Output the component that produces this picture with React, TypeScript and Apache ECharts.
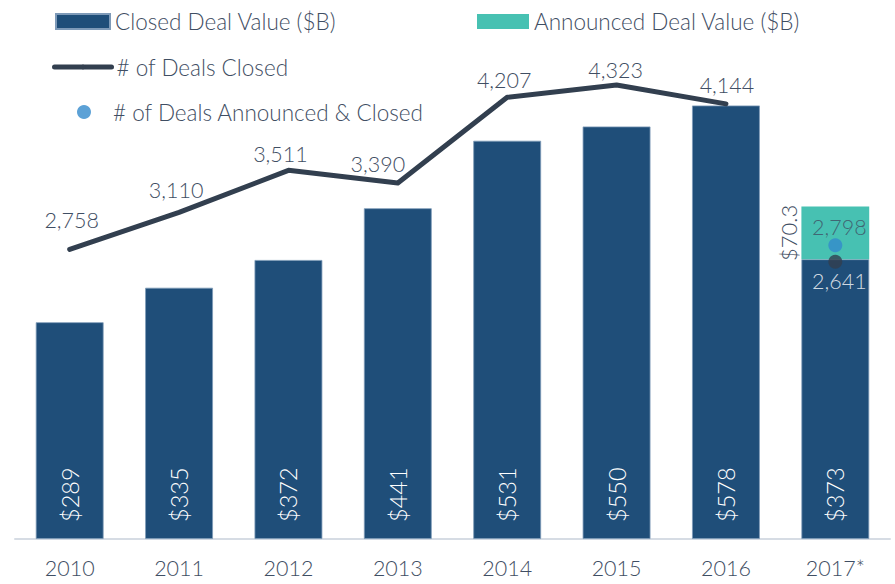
import React, { useEffect, useRef } from "react";
import * as echarts from "echarts";

const categories = ["2010", "2011", "2012", "2013", "2014", "2015", "2016", "2017*"];
const closedDealValue = [289, 335, 372, 441, 531, 550, 578, 373];
const announcedDealValue = [null, null, null, null, null, null, null, 70.3];
const dealsClosed = [2758, 3110, 3511, 3390, 4207, 4323, 4144, 2641];
const dealsAnnouncedClosed = [null, null, null, null, null, null, null, 2798];
const partialYearIndex = 7;

const FONT = "Lato";
const WEIGHT = 300;
const TEXT = "#3F4E63";
const BAR = "#1F4E79";
const TEAL = "#47C1B2";
const LINE = "#323F4F";
const DOT = "#3389CC";

// label nudges for the line series (style only)
const lineLabelNudge = [
  [2, -13],
  [-3, -6],
  [-8, 0],
  [-20, -3],
  [-3, -1],
  [-1, 1],
  [1, -2],
];

export default function App() {
  const ref = useRef<HTMLDivElement>(null);
  useEffect(() => {
    if (!ref.current) return;
    const chart = echarts.init(ref.current, null, { renderer: "svg" });
    const fmt = (v: number) => v.toLocaleString("en-US");

    const lineData = dealsClosed.map((v, i) =>
      i < partialYearIndex
        ? { value: v, label: { offset: lineLabelNudge[i] } }
        : "-"
    );
    const closedDot = dealsClosed.map((v, i) => (i >= partialYearIndex ? v : "-"));
    const announcedDot = dealsAnnouncedClosed.map((v) => (v == null ? "-" : v));
    const announcedBar = announcedDealValue.map((v) => (v == null ? "-" : v));

    const legendText = { color: TEXT, fontFamily: FONT, fontSize: 22.5, fontWeight: WEIGHT };

    chart.setOption({
      animation: false,
      textStyle: { fontFamily: FONT },
      grid: { left: 15, right: 5, top: 14, bottom: 45 },
      legend: [
        {
          data: ["Closed Deal Value ($B)"],
          left: 55, top: 10, padding: 0,
          itemWidth: 54, itemHeight: 15, icon: "rect",
          textStyle: legendText, selectedMode: false,
        },
        {
          data: ["Announced Deal Value ($B)"],
          left: 477, top: 10, padding: 0,
          itemWidth: 52, itemHeight: 15, icon: "rect",
          textStyle: legendText, selectedMode: false,
        },
        {
          data: ["# of Deals Closed"],
          left: 52, top: 55.5, padding: 0,
          itemWidth: 57, itemHeight: 6,
          lineStyle: { width: 5, cap: "round", color: LINE },
          textStyle: legendText, selectedMode: false,
        },
        {
          data: ["# of Deals Announced & Closed"],
          left: 77, top: 100.5, padding: 0,
          itemWidth: 48, itemHeight: 14, icon: "circle",
          textStyle: legendText, selectedMode: false,
        },
      ],
      xAxis: {
        type: "category",
        data: categories,
        axisLine: { lineStyle: { color: "#D6DCE4", width: 2 } },
        axisTick: { show: false },
        axisLabel: { color: TEXT, fontFamily: FONT, fontSize: 21.5, fontWeight: WEIGHT, margin: 18 },
      },
      yAxis: [
        { type: "value", min: 0, max: 700, show: false, splitLine: { show: false } },
        { type: "value", min: 0, max: 5000, show: false, splitLine: { show: false } },
      ],
      series: [
        {
          name: "Closed Deal Value ($B)",
          type: "bar",
          stack: "value",
          data: closedDealValue,
          barWidth: "62%",
          itemStyle: { color: BAR, borderColor: "#7E9AB8", borderWidth: 0.8 },
          label: {
            show: true,
            position: "insideBottom",
            rotate: 90,
            align: "left",
            verticalAlign: "middle",
            distance: 17,
            color: "#FFFFFF",
            fontFamily: FONT,
            fontSize: 23.5,
            fontWeight: WEIGHT,
            formatter: (p: any) => "$" + p.value,
          },
        },
        {
          name: "Announced Deal Value ($B)",
          type: "bar",
          stack: "value",
          data: announcedBar,
          barWidth: "62%",
          itemStyle: { color: TEAL },
          label: {
            show: true,
            position: "left",
            rotate: 90,
            align: "center",
            verticalAlign: "bottom",
            distance: 2,
            color: TEXT,
            fontFamily: FONT,
            fontSize: 22,
            fontWeight: WEIGHT,
            formatter: (p: any) => "$" + p.value,
          },
        },
        {
          name: "# of Deals Closed",
          type: "line",
          yAxisIndex: 1,
          data: lineData,
          symbol: "circle",
          symbolSize: 1,
          itemStyle: { color: LINE },
          lineStyle: { color: LINE, width: 5, cap: "round", join: "round" },
          label: {
            show: true,
            position: "top",
            distance: 5,
            color: TEXT,
            fontFamily: FONT,
            fontSize: 21.5,
            fontWeight: WEIGHT,
            formatter: (p: any) => fmt(p.value),
          },
          z: 5,
        },
        {
          name: "# of Deals Closed",
          type: "scatter",
          yAxisIndex: 1,
          data: closedDot,
          symbolSize: 14,
          itemStyle: { color: LINE },
          label: {
            show: true,
            position: "bottom",
            distance: 1,
            offset: [4, 0],
            color: "#FFFFFF",
            fontFamily: FONT,
            fontSize: 21.5,
            fontWeight: WEIGHT,
            formatter: (p: any) => fmt(p.value),
          },
          z: 6,
        },
        {
          name: "# of Deals Announced & Closed",
          type: "scatter",
          yAxisIndex: 1,
          data: announcedDot,
          symbolSize: 14,
          itemStyle: { color: DOT },
          label: {
            show: true,
            position: "top",
            distance: 0,
            offset: [4, 0],
            color: TEXT,
            fontFamily: FONT,
            fontSize: 21.5,
            fontWeight: WEIGHT,
            formatter: (p: any) => fmt(p.value),
          },
          z: 6,
        },
      ],
    });
    return () => chart.dispose();
  }, []);
  return (
    <div
      ref={ref}
      style={{ position: "fixed", left: 0, top: 0, width: 895, height: 584, background: "#fff" }}
    />
  );
}
